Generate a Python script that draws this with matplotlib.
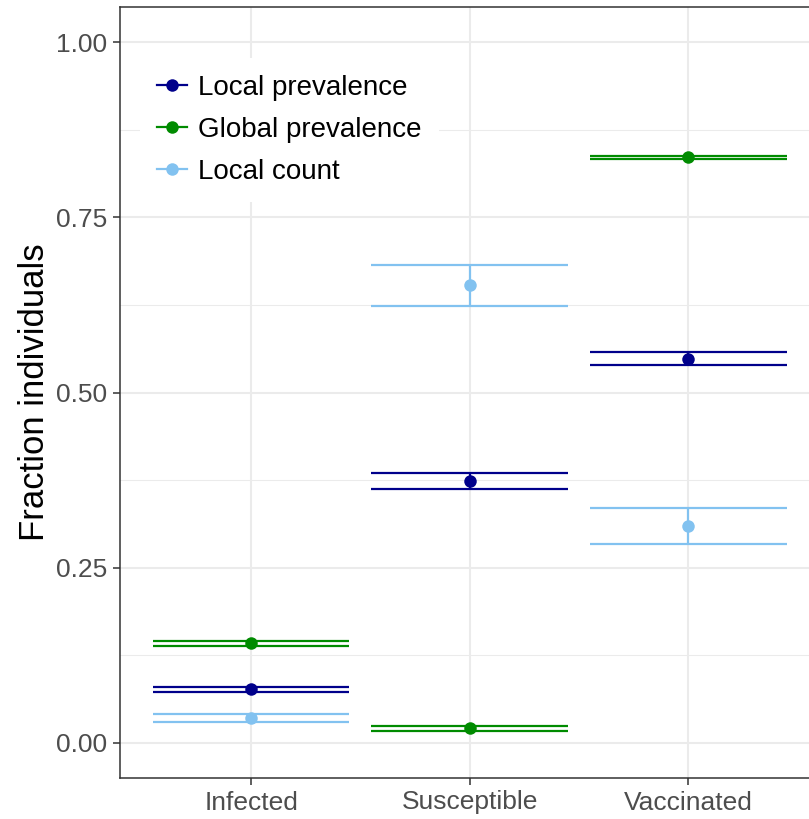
import matplotlib
matplotlib.use("Agg")
import matplotlib.pyplot as plt
from matplotlib.lines import Line2D
from matplotlib.ticker import MultipleLocator

plt.rcParams['font.family'] = ['Liberation Sans', 'DejaVu Sans']

categories = ["Infected", "Susceptible", "Vaccinated"]
series = ["Local prevalence", "Global prevalence", "Local count"]
colors = ["#00008B", "#008B00", "#82C2F0"]

# point estimate, lower and upper bound per category
local_prev = [0.0766, 0.374, 0.5473]
local_prev_lo = [0.0734, 0.3622, 0.5387]
local_prev_hi = [0.0801, 0.3858, 0.5573]

global_prev = [0.1427, 0.0207, 0.836]
global_prev_lo = [0.1385, 0.0168, 0.8335]
global_prev_hi = [0.146, 0.0235, 0.8380]

local_count = [0.0359, 0.6531, 0.3098]
local_count_lo = [0.0306, 0.6228, 0.2842]
local_count_hi = [0.0406, 0.6826, 0.335]

W, H = 809, 819
fig = plt.figure(figsize=(W / 100, H / 100), dpi=100)
# panel runs a bit past the right edge of the figure, as in the original
ax = fig.add_axes([120 / W, (H - 778) / H, 699.4 / W, 771 / H])

grey = "#EBEBEB"
ax.set_axisbelow(True)
ax.yaxis.set_minor_locator(MultipleLocator(0.125))
ax.grid(which="major", axis="both", color=grey, lw=1.5)
ax.grid(which="minor", axis="y", color=grey, lw=0.75)

x = list(range(len(categories)))
data = [
    (local_prev, local_prev_lo, local_prev_hi),
    (global_prev, global_prev_lo, global_prev_hi),
    (local_count, local_count_lo, local_count_hi),
]
half = 0.45
for (mid, lo, hi), col in zip(data, colors):
    for xi, m, l, h in zip(x, mid, lo, hi):
        ax.plot([xi, xi], [l, h], color=col, lw=1.6, solid_capstyle="butt")
        ax.plot([xi - half, xi + half], [l, l], color=col, lw=1.6, solid_capstyle="butt")
        ax.plot([xi - half, xi + half], [h, h], color=col, lw=1.6, solid_capstyle="butt")
    ax.plot(x, mid, "o", color=col, ms=9, mew=0, zorder=3)

ax.set_xlim(-0.6, 2.6)
ax.set_ylim(-0.05, 1.05)
ax.set_xticks(x)
ax.set_xticklabels(categories)
ax.set_yticks([0, 0.25, 0.5, 0.75, 1.0])
ax.set_yticklabels(["0.00", "0.25", "0.50", "0.75", "1.00"])
ax.tick_params(which="major", length=5, width=1.1, color="#333333",
               labelsize=19, labelcolor="#4D4D4D", pad=4)
ax.tick_params(which="minor", length=0)
for s in ax.spines.values():
    s.set_color("#333333")
    s.set_linewidth(1.1)

ax.set_ylabel("Fraction individuals", fontsize=25, labelpad=4)

handles = [Line2D([0], [0], color=c, lw=1.6, marker="o", ms=9, mew=0) for c in colors]
leg = ax.legend(handles, series, loc="upper left",
                bbox_to_anchor=(20 / 699.4, (778 - 58) / 771),
                frameon=True, fontsize=20, handlelength=1.1,
                handletextpad=0.4, labelspacing=0.58, borderpad=0.6,
                borderaxespad=0, fancybox=False)
leg.get_frame().set_facecolor("white")
leg.get_frame().set_edgecolor("none")
leg.get_frame().set_alpha(1)

fig.savefig("out.png", dpi=100)
